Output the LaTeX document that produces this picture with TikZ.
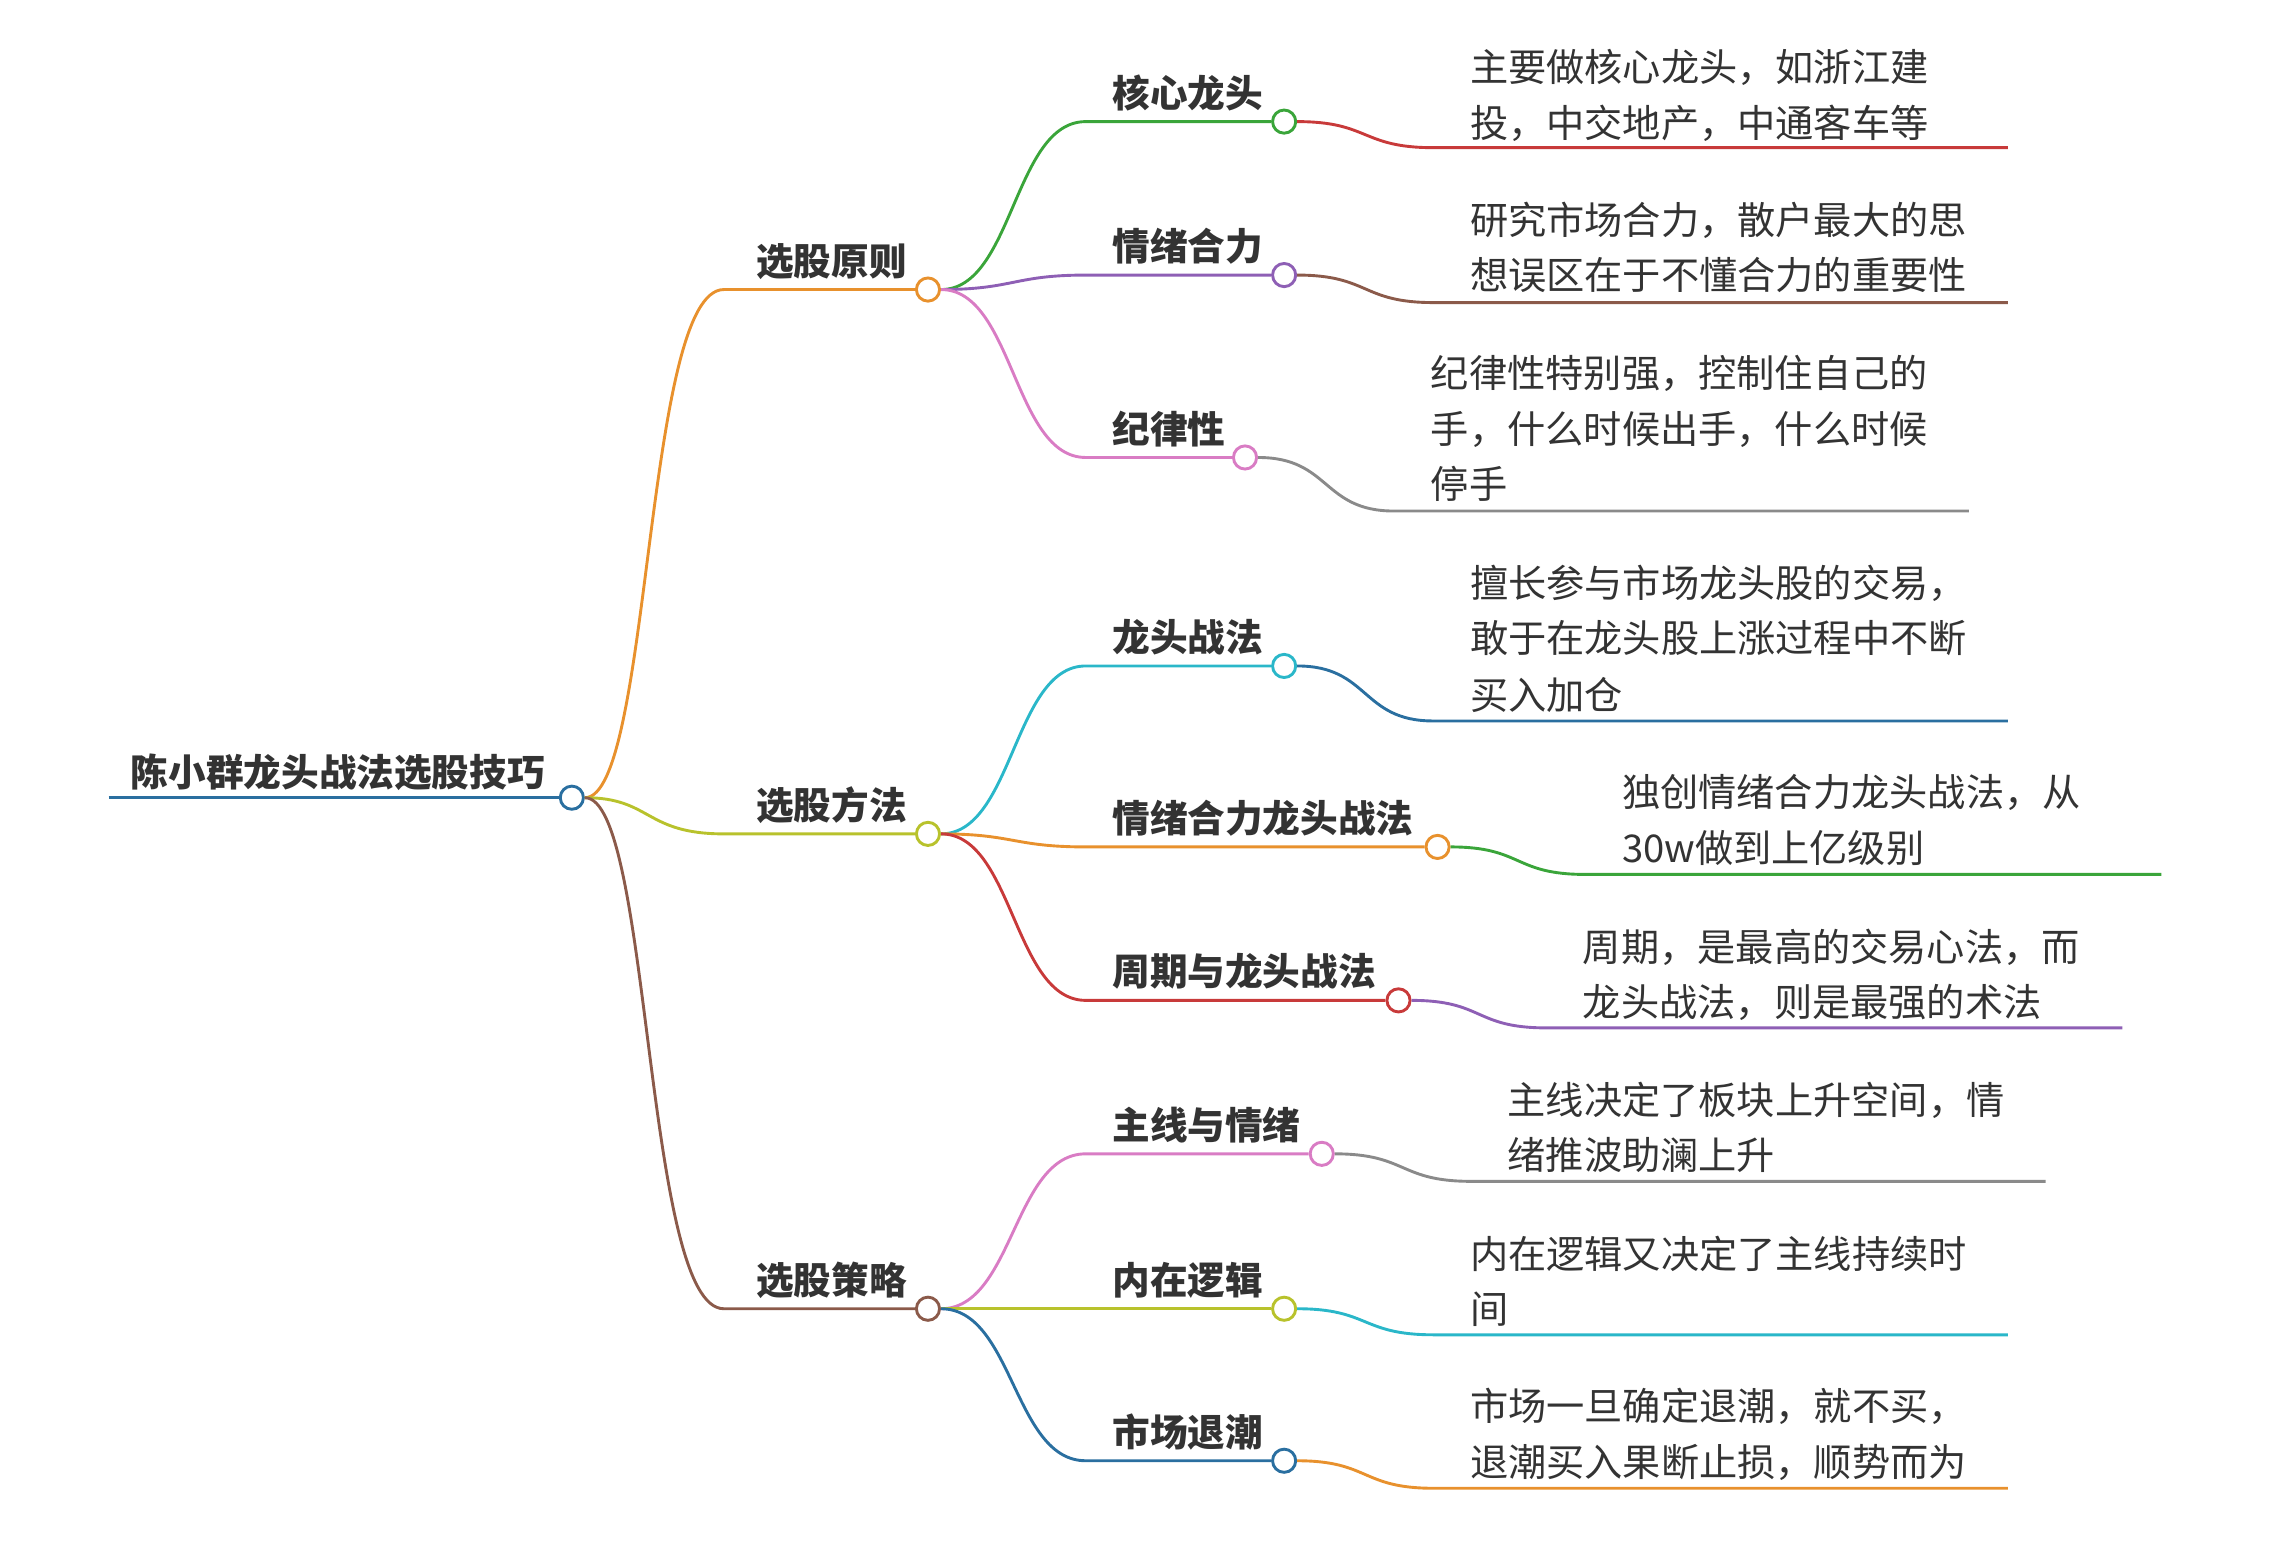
\documentclass[tikz,border=0pt]{standalone}
\usepackage{fontspec}
\setmainfont{Noto Sans CJK SC}
\definecolor{cOr}{HTML}{E8912D}\definecolor{cGr}{HTML}{3AA53A}\definecolor{cPu}{HTML}{8E5FB5}
\definecolor{cRe}{HTML}{C83A3A}\definecolor{cBr}{HTML}{8B5A4A}\definecolor{cPi}{HTML}{D97CC4}
\definecolor{cGy}{HTML}{8A8A8A}\definecolor{cCy}{HTML}{2AB7C9}\definecolor{cBl}{HTML}{2A6FA0}
\definecolor{cYg}{HTML}{B8C22C}\definecolor{cTx}{HTML}{333333}
\tikzset{
 dot/.style={circle,draw=#1,fill=white,line width=1pt,minimum size=8pt,inner sep=0pt},
 lab/.style={anchor=base west,inner sep=0pt,text=cTx,font=\fontsize{13}{16}\selectfont\bfseries},
 desc/.style={anchor=base west,inner sep=0pt,text=cTx,font=\fontsize{13.2}{16}\selectfont},
 ln/.style={draw=#1,line width=1pt}
}
\begin{document}
\begin{tikzpicture}[x=0.5pt,y=-0.5pt]
\useasboundingbox (0,0) rectangle (1568,1071);
% root
\node[lab,font=\fontsize{13}{16}\selectfont\bfseries] (r) at (90,543) {陈小群龙头战法选股技巧};
\node[dot=cBl] (R) at (395,551) {};
\coordinate (r0) at (75,551);
\draw[ln=cBl] (r0) -- (R.west);
% level 1
\newcommand\lvone[5]{% name, y, color, text
 \node[dot=#3] (#1) at (641,#2) {};
 \coordinate (#1s) at (500,#2);
 \node[lab] (#1t) at (522,#2-10) {#4};
 \draw[ln=#3] (R.east) .. controls (450,551) and (445,#2) .. (#1s) -- (#1.west);}
\lvone{A}{200}{cOr}{选股原则}{}
\lvone{B}{576}{cYg}{选股方法}{}
\lvone{C}{904}{cBr}{选股策略}{}
% level 2
\newcommand\lvtwo[6]{% parent, name, y, circle x, color, text
 \node[dot=#5] (#2) at (#4,#3) {};
 \coordinate (#2s) at (750,#3);
 \node[lab] (#2t) at (768,#3-10) {#6};
 \draw[ln=#5] (#1.east) .. controls (700,\getY) and (700,#3) .. (#2s) -- (#2.west);}
\newcommand\getY{200}
\lvtwo{A}{A1}{84}{887}{cGr}{核心龙头}
\lvtwo{A}{A2}{190}{887}{cPu}{情绪合力}
\lvtwo{A}{A3}{316}{860}{cPi}{纪律性}
\renewcommand\getY{576}
\lvtwo{B}{B1}{460}{887}{cCy}{龙头战法}
\lvtwo{B}{B2}{585}{993}{cOr}{情绪合力龙头战法}
\lvtwo{B}{B3}{691}{966}{cRe}{周期与龙头战法}
\renewcommand\getY{904}
\lvtwo{C}{C1}{797}{913}{cPi}{主线与情绪}
\lvtwo{C}{C2}{904}{887}{cYg}{内在逻辑}
\lvtwo{C}{C3}{1009}{887}{cBl}{市场退潮}
% level 3
\newcommand\lvthree[6]{% parent, name, line y, text x, end x, color
 \coordinate (#2s) at (#4-25,#3);
 \coordinate (#2e) at (#5,#3);
 \draw[ln=#6] (#1.east) .. controls ([xshift=25pt]#1.east) and ([xshift=-25pt]#2s) .. (#2s) -- (#2e);}
\lvthree{A1}{a1}{102}{1015}{1387}{cRe}
\node[desc] (a1x) at (1015,56) {主要做核心龙头，如浙江建};
\node[desc] (a1y) at (1015,95) {投，中交地产，中通客车等};
\lvthree{A2}{a2}{209}{1015}{1387}{cBr}
\node[desc] (a2x) at (1015,162) {研究市场合力，散户最大的思};
\node[desc] (a2y) at (1015,200) {想误区在于不懂合力的重要性};
\lvthree{A3}{a3}{353}{988}{1360}{cGy}
\node[desc] (a3x) at (988,268) {纪律性特别强，控制住自己的};
\node[desc] (a3y) at (988,306) {手，什么时候出手，什么时候};
\node[desc] (a3z) at (988,344) {停手};
\lvthree{B1}{b1}{498}{1015}{1387}{cBl}
\node[desc] (b1x) at (1015,413) {擅长参与市场龙头股的交易，};
\node[desc] (b1y) at (1015,451) {敢于在龙头股上涨过程中不断};
\node[desc] (b1z) at (1015,490) {买入加仓};
\lvthree{B2}{b2}{604}{1120}{1493}{cGr}
\node[desc] (b2x) at (1120,557) {独创情绪合力龙头战法，从};
\node[desc] (b2y) at (1120,596) {30w做到上亿级别};
\lvthree{B3}{b3}{710}{1093}{1466}{cPu}
\node[desc] (b3x) at (1093,664) {周期，是最高的交易心法，而};
\node[desc] (b3y) at (1093,702) {龙头战法，则是最强的术法};
\lvthree{C1}{c1}{816}{1041}{1413}{cGy}
\node[desc] (c1x) at (1041,770) {主线决定了板块上升空间，情};
\node[desc] (c1y) at (1041,808) {绪推波助澜上升};
\lvthree{C2}{c2}{922}{1015}{1387}{cCy}
\node[desc] (c2x) at (1015,876) {内在逻辑又决定了主线持续时};
\node[desc] (c2y) at (1015,914) {间};
\lvthree{C3}{c3}{1028}{1015}{1387}{cOr}
\node[desc] (c3x) at (1015,981) {市场一旦确定退潮，就不买，};
\node[desc] (c3y) at (1015,1020) {退潮买入果断止损，顺势而为};
\end{tikzpicture}
\end{document}
